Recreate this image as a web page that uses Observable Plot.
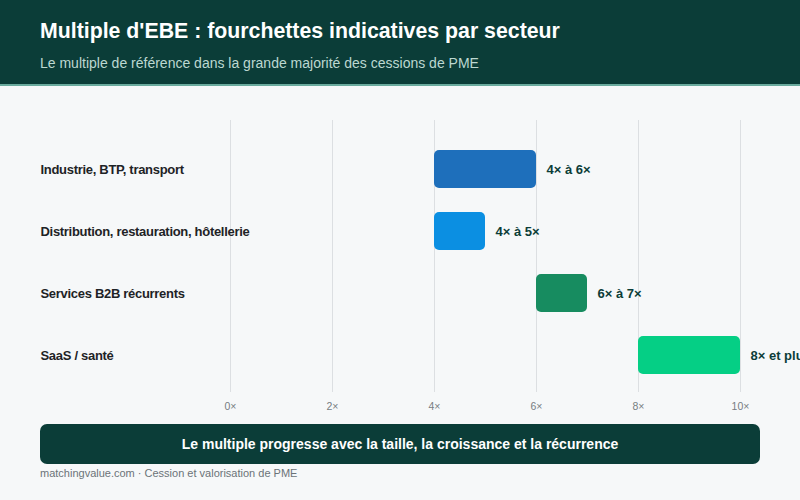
<!DOCTYPE html>
<html>
<head>
<meta charset="utf-8">
<script src="https://cdn.jsdelivr.net/npm/d3@7"></script>
<script src="https://cdn.jsdelivr.net/npm/@observablehq/plot@0.6"></script>
<style>
  html, body { margin: 0; padding: 0; width: 800px; height: 500px; overflow: hidden; background: #f6f8f9; font-family: "Liberation Sans", Arial, sans-serif; }
  #header { position: absolute; left: 0; top: 0; width: 800px; height: 84px; background: #0b3d38; border-bottom: 2px solid #6aab9e; box-sizing: content-box; }
  #title { position: absolute; left: 40px; top: 19px; font-size: 21.3px; font-weight: bold; color: #ffffff; white-space: nowrap; }
  #subtitle { position: absolute; left: 40px; top: 55px; font-size: 14px; color: #bcd8d1; white-space: nowrap; }
  #chart { position: absolute; left: 0; top: 100px; width: 800px; }
  #banner { position: absolute; left: 40px; top: 424px; width: 720px; height: 40px; background: #0b3d38; border-radius: 7px; color: #fff; font-weight: bold; font-size: 14px; text-align: center; line-height: 40px; }
  #caption { position: absolute; left: 40px; top: 467px; font-size: 11px; color: #6b7378; white-space: nowrap; }
</style>
</head>
<body>
<div id="header">
  <div id="title">Multiple d'EBE : fourchettes indicatives par secteur</div>
  <div id="subtitle">Le multiple de référence dans la grande majorité des cessions de PME</div>
</div>
<div id="chart"></div>
<div id="banner">Le multiple progresse avec la taille, la croissance et la récurrence</div>
<div id="caption">matchingvalue.com · Cession et valorisation de PME</div>
<script>
const sectors = ["Industrie, BTP, transport", "Distribution, restauration, hôtellerie", "Services B2B récurrents", "SaaS / santé"];
const lows = [4, 4, 6, 8];
const highs = [6, 5, 7, 10];
const rangeLabels = ["4× à 6×", "4× à 5×", "6× à 7×", "8× et plus"];
const colors = ["#1e6fbb", "#0b8fe2", "#178c60", "#05cf85"];
const xTicks = [0, 2, 4, 6, 8, 10];

const data = sectors.map((s, i) => ({sector: s, lo: lows[i], hi: highs[i], label: rangeLabels[i], color: colors[i]}));

const font = '"Liberation Sans", Arial, sans-serif';

const chart = Plot.plot({
  width: 800,
  height: 320,
  marginLeft: 230,
  marginRight: 60,
  marginTop: 20,
  marginBottom: 28,
  style: {background: "transparent", fontFamily: font},
  x: {domain: [0, 10], ticks: xTicks, tickFormat: d => d + "×", label: null, grid: false},
  y: {domain: sectors, paddingInner: 0.387, paddingOuter: 0.387, align: 0.625, axis: null},
  marks: [
    Plot.ruleX(xTicks, {x: d => d, stroke: "#dcdfe2", strokeWidth: 1}),
    Plot.axisX({ticks: xTicks, tickSize: 0, tickPadding: 10, tickFormat: d => d + "×", fill: "#777d82", fontSize: 10.5, label: null}),
    Plot.barX(data, {y: "sector", x1: "lo", x2: "hi", fill: "color", rx: 5}),
    Plot.text(data, {y: "sector", x: "hi", text: "label", dx: 10, textAnchor: "start", fill: "#0b3d38", fontWeight: "bold", fontSize: 13}),
    Plot.text(data, {y: "sector", text: "sector", frameAnchor: "left", dx: -190, textAnchor: "start", fill: "#1e2326", fontWeight: "bold", fontSize: 13, render: (i, s, v, d, c, next) => { const g = next(i, s, v, d, c); g.setAttribute("letter-spacing", "-0.3"); return g; }})
  ]
});
document.getElementById("chart").appendChild(chart);
</script>
</body>
</html>
